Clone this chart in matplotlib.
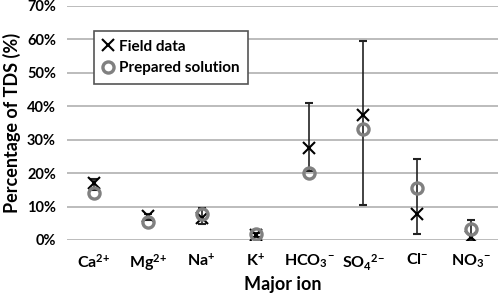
#!/usr/bin/env python3
# -*- coding: utf-8 -*-

import numpy as np
import matplotlib
matplotlib.use('Agg')
import matplotlib.pyplot as plt
from matplotlib.lines import Line2D

# data (percent of TDS)
ions = [r'$\mathregular{Ca^{2{+}}}$', r'$\mathregular{Mg^{2{+}}}$', r'$\mathregular{Na^{{+}}}$',
        r'$\mathregular{K^{{+}}}$', r'$\mathregular{HCO_3{}^{{-}}}$', r'$\mathregular{SO_4{}^{2{-}}}$',
        r'$\mathregular{Cl^{{-}}}$', r'$\mathregular{NO_3{}^{{-}}}$']
field = [17.0, 7.2, 6.5, 1.5, 27.5, 37.5, 7.8, 1.0]
field_low = [15.0, 6.0, 4.7, 0.8, 20.5, 10.5, 1.8, 0.0]
field_high = [18.3, 7.8, 9.6, 2.2, 41.0, 59.5, 24.3, 6.0]
prepared = [14.0, 5.4, 7.8, 1.8, 20.0, 33.3, 15.5, 3.3]

plt.rcParams['font.family'] = ['Lato', 'DejaVu Sans']
plt.rcParams['font.weight'] = 'bold'
plt.rcParams['mathtext.fontset'] = 'custom'
plt.rcParams['mathtext.rm'] = 'Lato:bold'

fig = plt.figure(figsize=(5, 2.97), dpi=100)
ax = fig.add_axes([0.134, 0.192, 0.862, 0.788])

x = np.arange(len(ions))
yerr = [np.array(field) - np.array(field_low), np.array(field_high) - np.array(field)]

ax.errorbar(x, field, yerr=yerr, fmt='x', color='black', ecolor='#222222',
            elinewidth=1.2, capsize=3, capthick=1.2, markersize=8, markeredgewidth=1.5,
            zorder=3)
ax.plot(x, prepared, 'o', markerfacecolor='none', markeredgecolor='#808080',
        markersize=8, markeredgewidth=2.4, zorder=4)

ax.set_xlim(-0.5, len(ions) - 0.5)
ax.set_ylim(0, 70)
ax.set_yticks(range(0, 71, 10))
ax.set_yticklabels([f'{v}%' for v in range(0, 71, 10)])
ax.set_xticks(x)
ax.set_xticklabels(ions)
ax.grid(axis='y', color='#b0b0b0', linewidth=1.2)
ax.set_axisbelow(True)
for s in ax.spines.values():
    s.set_visible(False)
ax.tick_params(length=0, labelsize=10.5, pad=8)
ax.tick_params(axis='x', labelsize=11.5, pad=9)

ax.set_ylabel('Percentage of TDS (%)', fontsize=13, fontweight='bold', labelpad=4)
ax.set_xlabel('Major ion', fontsize=13, fontweight='bold', labelpad=2)

handles = [Line2D([], [], ls='none', marker='x', color='black', markersize=8, markeredgewidth=1.5),
           Line2D([], [], ls='none', marker='o', markerfacecolor='none', markeredgecolor='#808080',
                  markersize=8, markeredgewidth=2.4)]
leg = ax.legend(handles, ['Field data', 'Prepared solution'], loc='upper left',
                bbox_to_anchor=(0.045, 0.925), fontsize=11,
                fancybox=False, edgecolor='#555555', framealpha=1,
                handlelength=0.7, handletextpad=0.4, borderpad=0.55, labelspacing=0.5)
leg.get_frame().set_linewidth(1.2)

fig.savefig('out.png', dpi=100)
